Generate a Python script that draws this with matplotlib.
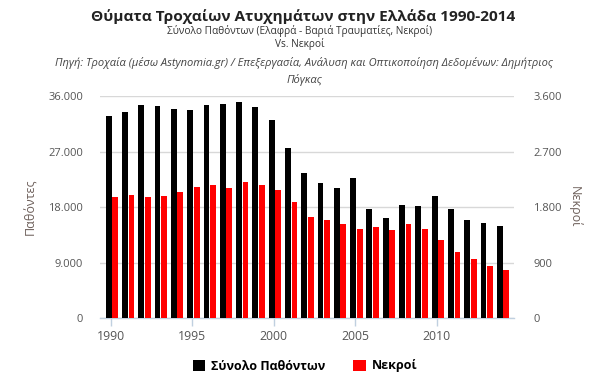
import matplotlib
matplotlib.use("Agg")
import matplotlib.pyplot as plt
from matplotlib.patches import Patch
from matplotlib.ticker import FuncFormatter

years = list(range(1990, 2015))
victims = [32760, 33400, 34540, 34380, 33890, 33730, 34540, 34700, 35030, 34220,
           32110, 27580, 23530, 21910, 21100, 22720, 17700, 16240, 18350, 18190,
           19800, 17700, 15920, 15430, 14950]
deaths = [1964, 1997, 1964, 1981, 2045, 2126, 2159, 2110, 2207, 2159,
          2078, 1883, 1640, 1592, 1527, 1446, 1479, 1430, 1527, 1446,
          1268, 1074, 960, 847, 782]
left_ticks = [0, 9000, 18000, 27000, 36000]
right_ticks = [0, 900, 1800, 2700, 3600]
x_ticks = [1990, 1995, 2000, 2005, 2010]

title = "Θύματα Τροχαίων Ατυχημάτων στην Ελλάδα 1990-2014"
subtitle1 = "Σύνολο Παθόντων (Ελαφρά - Βαριά Τραυματίες, Νεκροί)"
subtitle2 = "Vs. Νεκροί"
source1 = "Πηγή: Τροχαία (μέσω Astynomia.gr) / Επεξεργασία, Ανάλυση και Οπτικοποίηση Δεδομένων: Δημήτριος"
source2 = "Πόγκας"
left_label = "Παθόντες"
right_label = "Νεκροί"
legend_labels = ["Σύνολο Παθόντων", "Νεκροί"]

plt.rcParams['font.family'] = ['Open Sans', 'DejaVu Sans']

W, H = 599, 379
fig = plt.figure(figsize=(W / 100, H / 100), dpi=100)
x0, x1, ytop, ybot = 100, 514, 96, 318.3
ax = fig.add_axes([x0 / W, 1 - ybot / H, (x1 - x0) / W, (ybot - ytop) / H])
ax2 = ax.twinx()

bw = 0.36
ax.bar([y - 0.13 for y in years], victims, width=bw, color='black', zorder=3)
ax2.bar([y + 0.27 for y in years], deaths, width=bw, color='#ff0000', zorder=3)

ax.set_xlim(1989.34, 2014.74)
ax.set_ylim(0, 36000)
ax2.set_ylim(0, 3600)
ax.set_yticks(left_ticks)
ax2.set_yticks(right_ticks)
fmt = FuncFormatter(lambda v, p: f"{int(v):,}".replace(",", "."))
ax.yaxis.set_major_formatter(fmt)
ax2.yaxis.set_major_formatter(fmt)
ax.set_xticks(x_ticks)

for a in (ax, ax2):
    for s in a.spines.values():
        s.set_visible(False)
ax.spines['bottom'].set_visible(True)
ax.spines['bottom'].set_color('#c0d0e0')
ax.spines['bottom'].set_linewidth(1)
ax.grid(axis='y', color='#d8d8d8', linewidth=1, zorder=0)
ax.set_axisbelow(True)

ax.tick_params(axis='x', colors='#c0d0e0', length=6, width=1, labelcolor='#555555',
               labelsize=8.8, pad=2.5)
ax.tick_params(axis='y', length=0, labelcolor='#555555', labelsize=8, pad=12)
ax2.tick_params(axis='y', length=0, labelcolor='#555555', labelsize=8, pad=14)

ax.set_ylabel(left_label, color='#6d5f5a', fontsize=9, labelpad=8)
ax2.set_ylabel(right_label, color='#6d5f5a', fontsize=9, rotation=270, labelpad=14)

cx = 303 / W
fig.text(cx, 1 - 17 / H, title, ha='center', va='center', fontsize=11.1,
         fontweight='bold', color='#222222')
fig.text(300 / W, 1 - 31 / H, subtitle1, ha='center', va='center', fontsize=7.3, color='#333333')
fig.text(300 / W, 1 - 44 / H, subtitle2, ha='center', va='center', fontsize=7.3, color='#333333')
fig.text(304 / W, 1 - 63 / H, source1, ha='center', va='center', fontsize=8.0,
         style='italic', color='#444444')
fig.text(304 / W, 1 - 80 / H, source2, ha='center', va='center', fontsize=8.0,
         style='italic', color='#444444')

handles = [Patch(facecolor='black'), Patch(facecolor='#ff0000')]
leg = fig.legend(handles, legend_labels, loc='center', bbox_to_anchor=(305 / W, 1 - 366 / H),
                 ncol=2, frameon=False, handlelength=1.0, handleheight=1.0,
                 handletextpad=0.5, columnspacing=2.2,
                 prop={'weight': 'bold', 'size': 9})

fig.savefig('out.png', dpi=100)
